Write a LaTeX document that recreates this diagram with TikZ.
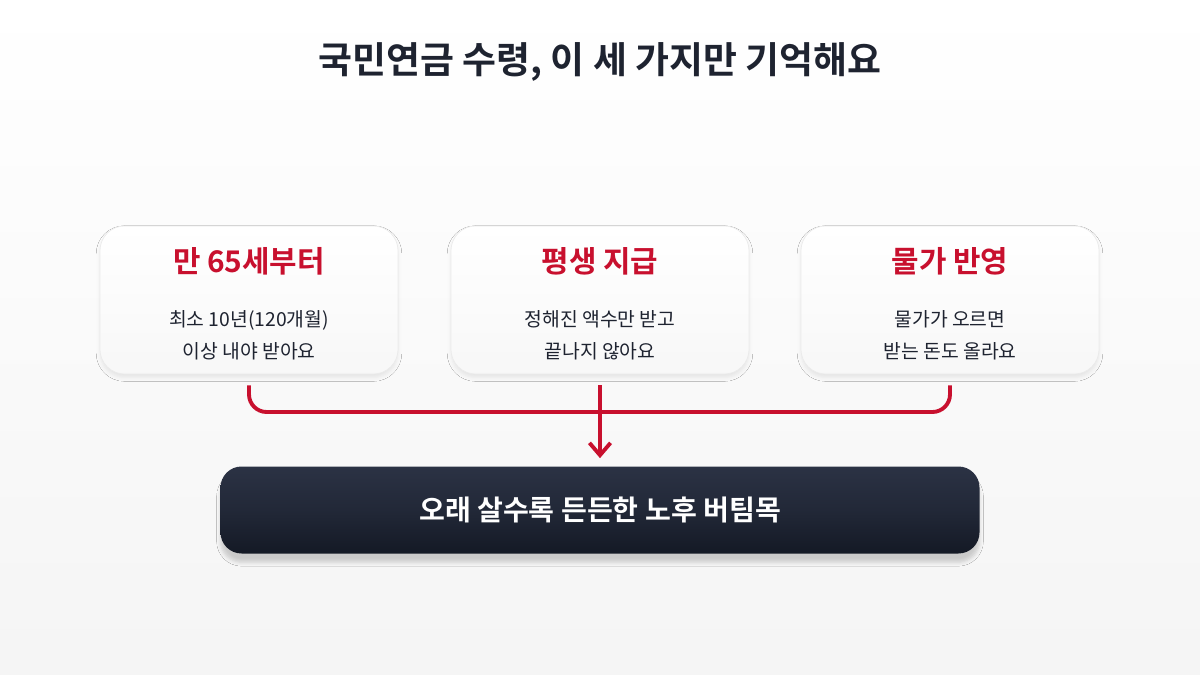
\documentclass[tikz,border=0pt]{standalone}
\usepackage{fontspec}
\setmainfont{Noto Sans CJK KR}
\newfontfamily\boldkr{Noto Sans CJK KR Bold}
\usetikzlibrary{positioning,shadows.blur,arrows.meta}
\definecolor{accent}{HTML}{C8102E}
\definecolor{ink}{HTML}{1E2330}
\definecolor{navyA}{HTML}{2B3244}
\definecolor{navyB}{HTML}{141925}
\tikzset{
  card/.style={draw=black!8, rounded corners=14, top color=white, bottom color=black!3, minimum width=298*0.02cm,
    minimum height=148*0.02cm, blur shadow={shadow xshift=0pt, shadow yshift=-2pt, shadow opacity=8}},
  cardtitle/.style={text=accent, font=\boldkr\fontsize{17}{20}\selectfont},
  cardbody/.style={text=ink, align=center, font=\fontsize{11}{18.2}\selectfont},
  link/.style={draw=accent, line width=2.2pt, rounded corners=10},
}
\begin{document}
\begin{tikzpicture}[x=0.02cm,y=-0.02cm]
  % Background
  \shade[top color=white, bottom color=black!4] (0,0) rectangle (1200,675);
  \useasboundingbox (0,0) rectangle (1200,675);

  % Title
  \node[text=ink, font=\boldkr\fontsize{21}{24}\selectfont] (title) at (600,62) {국민연금 수령, 이 세 가지만 기억해요};

  % Cards
  \node[card] (age) at (249,300) {};
  \node[card] (life) at (600,300) {};
  \node[card] (price) at (950,300) {};
  \foreach \c/\t/\a/\b in {age/만 65세부터/최소 10년(120개월)/이상 내야 받아요,
                           life/평생 지급/정해진 액수만 받고/끝나지 않아요,
                           price/물가 반영/물가가 오르면/받는 돈도 올라요}{
    \node[cardtitle] (\c-title) at ([yshift=-36*0.02cm]\c.north) {\t};
    \node[cardbody] (\c-body) at ([yshift=-110*0.02cm]\c.north) {\a\\\b};
  }

  % Result bar
  \node[rounded corners=12, minimum width=759*0.02cm, minimum height=87*0.02cm,
        top color=navyA, bottom color=navyB, middle color=navyA!60!navyB,
        blur shadow={shadow xshift=0pt, shadow yshift=-5pt, shadow opacity=18},
        text=white, font=\boldkr\fontsize{16}{20}\selectfont] (result) at (600,510) {오래 살수록 든든한 노후 버팀목};

  % Connectors
  \coordinate (ageout) at ([yshift=-11*0.02cm]age.south);
  \coordinate (lifeout) at ([yshift=-11*0.02cm]life.south);
  \coordinate (priceout) at ([yshift=-11*0.02cm]price.south);
  \coordinate (join) at (600,412);
  \draw[link] (ageout) |- (join) -| (priceout);
  \draw[link, -{Straight Barb[length=7pt,width=12pt]}] (lifeout) -- ([yshift=8*0.02cm]result.north);
\end{tikzpicture}
\end{document}
